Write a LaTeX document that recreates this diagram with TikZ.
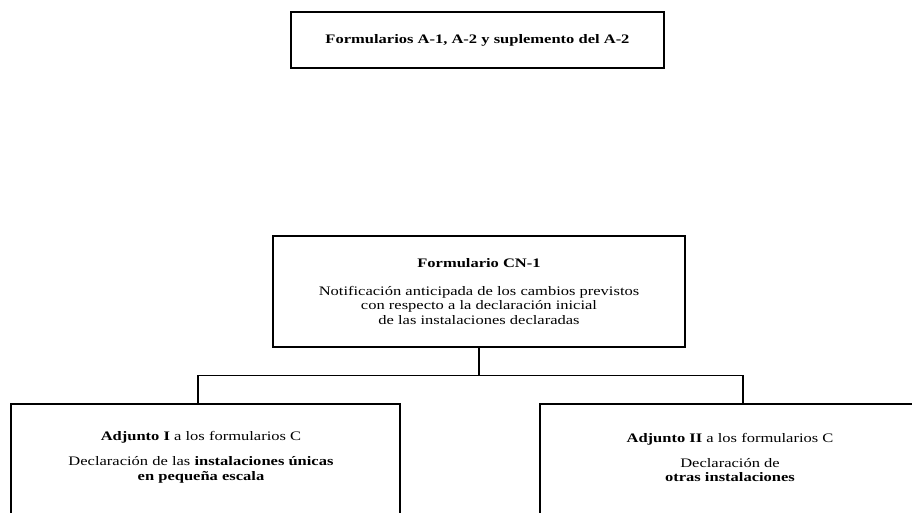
\documentclass[tikz,border=0pt]{standalone}
\usepackage{fontspec}
\setmainfont[FakeStretch=1.27]{Liberation Serif}
\begin{document}
\begin{tikzpicture}[x=1pt, y=-1pt,
  box/.style={draw, line width=1.2pt, rectangle, inner sep=0pt},
  txt/.style={align=center, inner sep=0pt, font=\fontsize{13}{14.5}\selectfont},
  link/.style={line width=1.2pt}]
\useasboundingbox (0,0) rectangle (912,512);
\clip (0,0) rectangle (912,512);

% top form box
\node[box, minimum width=373pt, minimum height=56pt] (top) at (477.5,40) {};
\node[txt] (toptext) at (top.center) {\textbf{Formularios A-1, A-2 y suplemento del A-2}};

% CN-1 box
\node[box, minimum width=412pt, minimum height=111pt] (cn1) at (479,291.5) {};
\node[txt] (cn1text) at (cn1.center) {\textbf{Formulario CN-1}\\[13.5pt]
  Notificación anticipada de los cambios previstos\\
  con respecto a la declaración inicial\\
  de las instalaciones declaradas};

% attachment boxes (running past the lower edge)
\node[box, minimum width=389pt, minimum height=150pt] (adj1) at (205.5,479) {};
\node[txt] (adj1text) at (201,457.5) {\textbf{Adjunto I} a los formularios C\\[10.5pt]
  Declaración de las \textbf{instalaciones únicas}\\
  \textbf{en pequeña escala}};

\node[box, minimum width=390pt, minimum height=150pt] (adj2) at (735,479) {};
\node[txt] (adj2text) at (730,457.5) {\textbf{Adjunto II} a los formularios C\\[10.5pt]
  Declaración de\\
  \textbf{otras instalaciones}};

% connectors
\coordinate (drop1) at (198,375.5);
\coordinate (drop2) at (743,375.5);
\draw[link] (cn1.south) -- (cn1.south |- drop1);
\draw[link] (drop1 |- adj1.north) -- (drop1) -- (drop2) -- (drop2 |- adj2.north);
\end{tikzpicture}
\end{document}
